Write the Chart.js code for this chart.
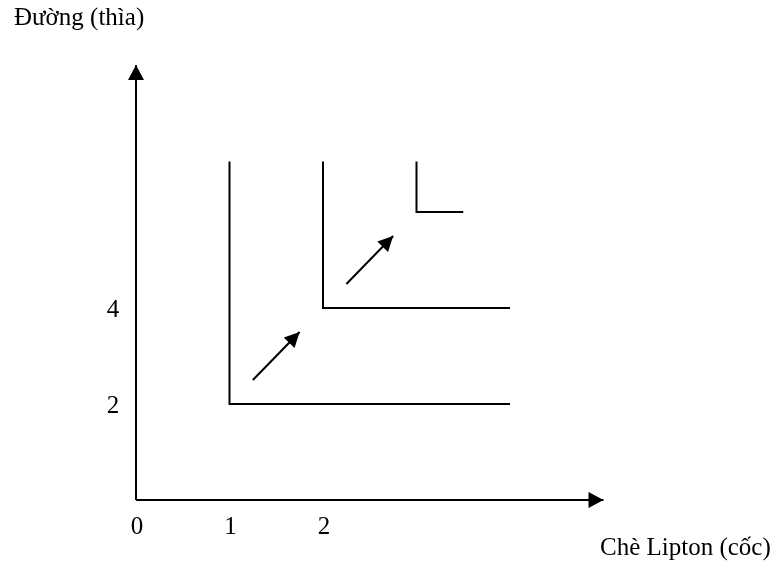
<!DOCTYPE html>
<html><head><meta charset="utf-8">
<script src="https://cdn.jsdelivr.net/npm/chart.js@4/dist/chart.umd.min.js"></script>
<style>html,body{margin:0;padding:0;background:#fff}canvas{display:block}</style>
</head><body>
<canvas id="c" width="775" height="566"></canvas>
<script>
// ---- data ----
const yAxisTitle = "Đường (thìa)";
const xAxisTitle = "Chè Lipton (cốc)";
const xTickLabels = [0, 1, 2];
const yTickLabels = [2, 4];
// L-shaped indifference curves (top of vertical arm, corner, end of horizontal arm)
const curve1 = [{x:1, y:7.05}, {x:1, y:2}, {x:4, y:2}];
const curve2 = [{x:2, y:7.05}, {x:2, y:4}, {x:4, y:4}];
const curve3 = [{x:3, y:7.05}, {x:3, y:6}, {x:3.5, y:6}];
// direction arrows
const arrow1 = [{x:1.25, y:2.5}, {x:1.75, y:3.5}];
const arrow2 = [{x:2.25, y:4.5}, {x:2.75, y:5.5}];
// axes
const xAxisLine = [{x:0, y:0}, {x:5, y:0}];
const yAxisLine = [{x:0, y:0}, {x:0, y:9.06}];
const xRange = [0, 5];
const yRange = [0, 9.0625];

const FONT = '25px "Liberation Serif", "Times New Roman", serif';

const arrowPlugin = {
  id: 'arrowHeads',
  afterDatasetsDraw(chart) {
    const ctx = chart.ctx;
    chart.data.datasets.forEach((ds, i) => {
      if (!ds.arrowLen) return;
      const pts = chart.getDatasetMeta(i).data;
      const a = pts[pts.length - 2], b = pts[pts.length - 1];
      const ang = Math.atan2(b.y - a.y, b.x - a.x);
      const L = ds.arrowLen, W = ds.arrowHalf;
      ctx.save();
      ctx.translate(b.x, b.y);
      ctx.rotate(ang);
      ctx.beginPath();
      ctx.moveTo(0, 0);
      ctx.lineTo(-L, -W);
      ctx.lineTo(-L, W);
      ctx.closePath();
      ctx.fillStyle = '#000';
      ctx.fill();
      ctx.restore();
    });
  }
};

const labelPlugin = {
  id: 'labels',
  afterDraw(chart) {
    const ctx = chart.ctx;
    const xs = chart.scales.x, ys = chart.scales.y;
    ctx.save();
    ctx.font = FONT;
    ctx.fillStyle = '#000';
    ctx.textBaseline = 'alphabetic';
    ctx.textAlign = 'center';
    const y0 = ys.getPixelForValue(0), x0 = xs.getPixelForValue(0);
    xTickLabels.forEach(v => ctx.fillText(String(v), xs.getPixelForValue(v) + 1, y0 + 34));
    yTickLabels.forEach(v => ctx.fillText(String(v), x0 - 23, ys.getPixelForValue(v) + 8.5));
    ctx.textAlign = 'left';
    ctx.fillText(yAxisTitle, 14, 25);
    ctx.fillText(xAxisTitle, 600, 555);
    ctx.restore();
  }
};

function lineDs(data, extra) {
  return Object.assign({
    data, borderColor: '#000', borderWidth: 2, pointRadius: 0,
    showLine: true, fill: false, tension: 0, borderCapStyle: 'butt', borderJoinStyle: 'miter'
  }, extra || {});
}

new Chart(document.getElementById('c'), {
  type: 'scatter',
  data: {
    datasets: [
      lineDs(xAxisLine, {arrowLen: 15, arrowHalf: 8}),
      lineDs(yAxisLine, {arrowLen: 15, arrowHalf: 8}),
      lineDs(curve1),
      lineDs(curve2),
      lineDs(curve3),
      lineDs(arrow1, {arrowLen: 15, arrowHalf: 7.5}),
      lineDs(arrow2, {arrowLen: 15, arrowHalf: 7.5})
    ]
  },
  options: {
    responsive: false,
    animation: false,
    devicePixelRatio: 1,
    clip: false,
    layout: { padding: { left: 136, right: 171.5, top: 65, bottom: 66 } },
    plugins: { legend: { display: false }, tooltip: { enabled: false }, title: { display: false } },
    scales: {
      x: { type: 'linear', min: xRange[0], max: xRange[1], display: false },
      y: { type: 'linear', min: yRange[0], max: yRange[1], display: false }
    }
  },
  plugins: [arrowPlugin, labelPlugin]
});
</script>
</body></html>
